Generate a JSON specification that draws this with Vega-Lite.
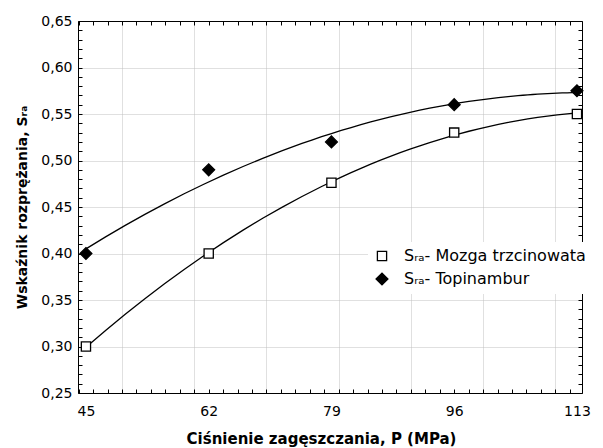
{
  "$schema": "https://vega.github.io/schema/vega-lite/v6.json",
  "width": 504,
  "height": 372,
  "autosize": {"type": "none"},
  "padding": {"left": 78, "top": 21, "right": 21, "bottom": 55},
  "background": "white",
  "config": {
    "font": "DejaVu Sans",
    "view": {"stroke": null},
    "axis": {
      "domainColor": "black",
      "domainWidth": 1,
      "tickColor": "black",
      "labelColor": "black",
      "labelFontSize": 14,
      "labelFont": "DejaVu Sans",
      "titleFont": "DejaVu Sans",
      "titleFontSize": 14,
      "titleFontWeight": "bold",
      "titleColor": "black",
      "gridColor": "#c0c0c0",
      "gridDash": [1, 1],
      "labelOverlap": false
    },
    "legend": {
      "labelFont": "DejaVu Sans",
      "labelFontSize": 16,
      "labelColor": "black",
      "labelLimit": 0,
      "labelOffset": 14,
      "symbolStrokeWidth": 1.3
    }
  },
  "data": {
    "values": [
      {"P": 45, "S": 0.30, "seria": "Sᵣₐ- Mozga trzcinowata"},
      {"P": 62, "S": 0.40, "seria": "Sᵣₐ- Mozga trzcinowata"},
      {"P": 79, "S": 0.476, "seria": "Sᵣₐ- Mozga trzcinowata"},
      {"P": 96, "S": 0.53, "seria": "Sᵣₐ- Mozga trzcinowata"},
      {"P": 113, "S": 0.55, "seria": "Sᵣₐ- Mozga trzcinowata"},
      {"P": 45, "S": 0.40, "seria": "Sᵣₐ- Topinambur"},
      {"P": 62, "S": 0.49, "seria": "Sᵣₐ- Topinambur"},
      {"P": 79, "S": 0.52, "seria": "Sᵣₐ- Topinambur"},
      {"P": 96, "S": 0.56, "seria": "Sᵣₐ- Topinambur"},
      {"P": 113, "S": 0.575, "seria": "Sᵣₐ- Topinambur"}
    ]
  },
  "resolve": {"scale": {"x": "independent", "y": "independent"}},
  "layer": [
    {
      "transform": [
        {"regression": "S", "on": "P", "groupby": ["seria"], "method": "poly", "order": 2, "extent": [45, 113]}
      ],
      "mark": {"type": "line", "color": "black", "strokeWidth": 1.3},
      "encoding": {
        "x": {
          "field": "P", "type": "quantitative",
          "scale": {"domain": [43.9, 113.7], "nice": false, "zero": false},
          "axis": {
            "orient": "top", "title": null, "labels": false, "grid": false,
            "values": [44,46,48,50,52,54,56,58,60,62,64,66,68,70,72,74,76,78,80,82,84,86,88,90,92,94,96,98,100,102,104,106,108,110,112],
            "tickSize": -4
          }
        },
        "y": {
          "field": "S", "type": "quantitative",
          "scale": {"domain": [0.25, 0.65], "nice": false, "zero": false},
          "axis": {
            "orient": "right", "title": null, "labels": false, "grid": false,
            "values": [0.25,0.26,0.27,0.28,0.29,0.30,0.31,0.32,0.33,0.34,0.35,0.36,0.37,0.38,0.39,0.40,0.41,0.42,0.43,0.44,0.45,0.46,0.47,0.48,0.49,0.50,0.51,0.52,0.53,0.54,0.55,0.56,0.57,0.58,0.59,0.60,0.61,0.62,0.63,0.64,0.65],
            "tickSize": -4
          }
        },
        "detail": {"field": "seria", "type": "nominal"}
      }
    },
    {
      "mark": {"type": "point", "filled": true, "strokeWidth": 1.3, "opacity": 1},
      "encoding": {
        "x": {
          "field": "P", "type": "quantitative",
          "scale": {"domain": [43.9, 113.7], "nice": false, "zero": false},
          "axis": {
            "orient": "bottom",
            "title": "Ciśnienie zagęszczania, P (MPa)",
            "titleFontSize": 15,
            "titlePadding": 13,
            "titleX": 243,
            "titleAlign": "center",
            "values": [44,45,46,48,50,52,54,56,58,60,62,64,66,68,70,72,74,76,78,79,80,82,84,86,88,90,92,94,96,98,100,102,104,106,108,110,112,113],
            "labelExpr": "indexof([45,62,79,96,113], datum.value) >= 0 ? datum.value + '' : ''",
            "tickSize": -4,
            "tickOpacity": {"condition": {"test": "datum.value % 2 !== 0", "value": 0}, "value": 1},
            "grid": true,
            "gridOpacity": {"condition": {"test": "datum.value % 10 !== 0", "value": 0}, "value": 1},
            "labelPadding": 15,
            "labelFlush": false
          }
        },
        "y": {
          "field": "S", "type": "quantitative",
          "scale": {"domain": [0.25, 0.65], "nice": false, "zero": false},
          "axis": {
            "orient": "left",
            "title": "Wskaźnik rozprężania, Sᵣₐ",
            "titlePadding": 11,
            "values": [0.25,0.26,0.27,0.28,0.29,0.30,0.31,0.32,0.33,0.34,0.35,0.36,0.37,0.38,0.39,0.40,0.41,0.42,0.43,0.44,0.45,0.46,0.47,0.48,0.49,0.50,0.51,0.52,0.53,0.54,0.55,0.56,0.57,0.58,0.59,0.60,0.61,0.62,0.63,0.64,0.65],
            "labelExpr": "round(datum.value*100) % 5 === 0 ? replace(format(datum.value, '.2f'), '.', ',') : ''",
            "tickSize": -4,
            "grid": true,
            "gridOpacity": {"condition": {"test": "round(datum.value*100) % 5 !== 0", "value": 0}, "value": 1},
            "labelPadding": 10,
            "labelFlush": false
          }
        },
        "shape": {
          "field": "seria", "type": "nominal",
          "scale": {"domain": ["Sᵣₐ- Mozga trzcinowata", "Sᵣₐ- Topinambur"], "range": ["square", "diamond"]},
          "legend": {"title": null, "orient": "none", "legendX": 290, "legendY": 221, "fillColor": "white", "padding": 6, "rowPadding": 6}
        },
        "fill": {
          "field": "seria", "type": "nominal",
          "scale": {"domain": ["Sᵣₐ- Mozga trzcinowata", "Sᵣₐ- Topinambur"], "range": ["white", "black"]},
          "legend": {"title": null, "orient": "none", "legendX": 290, "legendY": 221, "fillColor": "white", "padding": 6, "rowPadding": 6}
        },
        "stroke": {
          "field": "seria", "type": "nominal",
          "scale": {"domain": ["Sᵣₐ- Mozga trzcinowata", "Sᵣₐ- Topinambur"], "range": ["black", "black"]},
          "legend": {"title": null, "orient": "none", "legendX": 290, "legendY": 221, "fillColor": "white", "padding": 6, "rowPadding": 6}
        },
        "size": {
          "field": "seria", "type": "nominal",
          "scale": {"domain": ["Sᵣₐ- Mozga trzcinowata", "Sᵣₐ- Topinambur"], "range": [85, 140]},
          "legend": {"title": null, "orient": "none", "legendX": 290, "legendY": 221, "fillColor": "white", "padding": 6, "rowPadding": 6}
        }
      }
    }
  ]
}
